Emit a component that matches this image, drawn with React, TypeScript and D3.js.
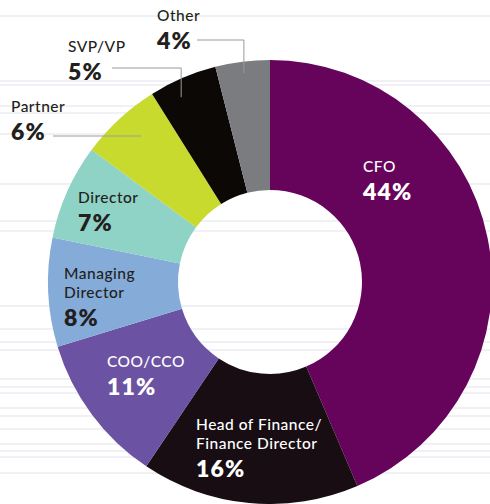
import React from "react";
import * as d3 from "d3";

const categories = ["CFO", "Head of Finance/Finance Director", "COO/CCO", "Managing Director", "Director", "Partner", "SVP/VP", "Other"];
const values = [44, 16, 11, 8, 7, 6, 5, 4];
const colors = ["#66045c", "#170d12", "#6b52a3", "#85acd9", "#8fd2c6", "#c8da2e", "#0c0806", "#7b7c80"];
const labelLines = [["CFO"], ["Head of Finance/", "Finance Director"], ["COO/CCO"], ["Managing", "Director"], ["Director"], ["Partner"], ["SVP/VP"], ["Other"]];
const stripeYs = [15, 80, 84, 105, 112, 133, 183, 220, 230, 305, 328, 341, 349, 378, 386, 392, 407, 415, 428, 443, 450, 456, 472];

// layout (not data)
const W = 490, H = 504;
const CX = 270, CY = 282, R_OUT = 222, R_IN = 92;
const labelPos: [number, number, boolean][] = [
  [363, 172, true],
  [196, 430, true],
  [107, 367, true],
  [64, 279, false],
  [78, 203, false],
  [11, 112, false],
  [68, 52, false],
  [157, 21, false],
];

export default function App() {
  const pie = d3.pie<number>().sort(null).value((d) => d);
  const arcs = pie(values);
  const arc = d3.arc<d3.PieArcDatum<number>>().innerRadius(R_IN).outerRadius(R_OUT);
  const leaderPt = (i: number, angFrac: number, rFrac: number) => {
    const s = arcs[i];
    const a = s.startAngle + (s.endAngle - s.startAngle) * angFrac;
    const r = R_IN + (R_OUT - R_IN) * rFrac;
    return [CX + r * Math.sin(a), CY - r * Math.cos(a)];
  };
  const otherPt = leaderPt(7, 0.5, 0.91);
  const svpPt = leaderPt(6, 0.36, 0.87);
  const partnerPt = leaderPt(5, 0.56, 0.79);
  const font = "Lato, 'Noto Sans', sans-serif";
  return (
    <svg width={W} height={H} style={{ position: "absolute", left: 0, top: 0 }} fontFamily={font}>
      <rect width={W} height={H} fill="#ffffff" />
      {stripeYs.map((y, i) => (
        <rect key={i} x={0} y={y} width={W} height={2} fill="#f1f0f5" />
      ))}
      <g transform={`translate(${CX},${CY})`}>
        {arcs.map((a, i) => (
          <path key={categories[i]} d={arc(a) || ""} fill={colors[i]} />
        ))}
      </g>
      <g fill="none" stroke="#9a9a9a" strokeWidth={1}>
        <polyline points={`197,40 ${otherPt[0]},40 ${otherPt[0]},${otherPt[1]}`} />
        <polyline points={`112,68 ${svpPt[0]},68 ${svpPt[0]},${svpPt[1]}`} />
        <polyline points={`53,136 ${partnerPt[0]},136`} />
      </g>
      {labelPos.map(([x, y, white], i) => {
        const lines = labelLines[i];
        const fill = white ? "#ffffff" : "#231f20";
        return (
          <g key={i} fill={fill}>
            {lines.map((t, j) => (
              <text key={j} x={x} y={y + j * 19} fontSize={15.5} fontWeight={500} letterSpacing={0.5}>
                {t}
              </text>
            ))}
            <text x={x} y={y + (lines.length - 1) * 19 + 28} fontSize={23} fontWeight={800} letterSpacing={1.2}>
              {values[i]}%
            </text>
          </g>
        );
      })}
    </svg>
  );
}
